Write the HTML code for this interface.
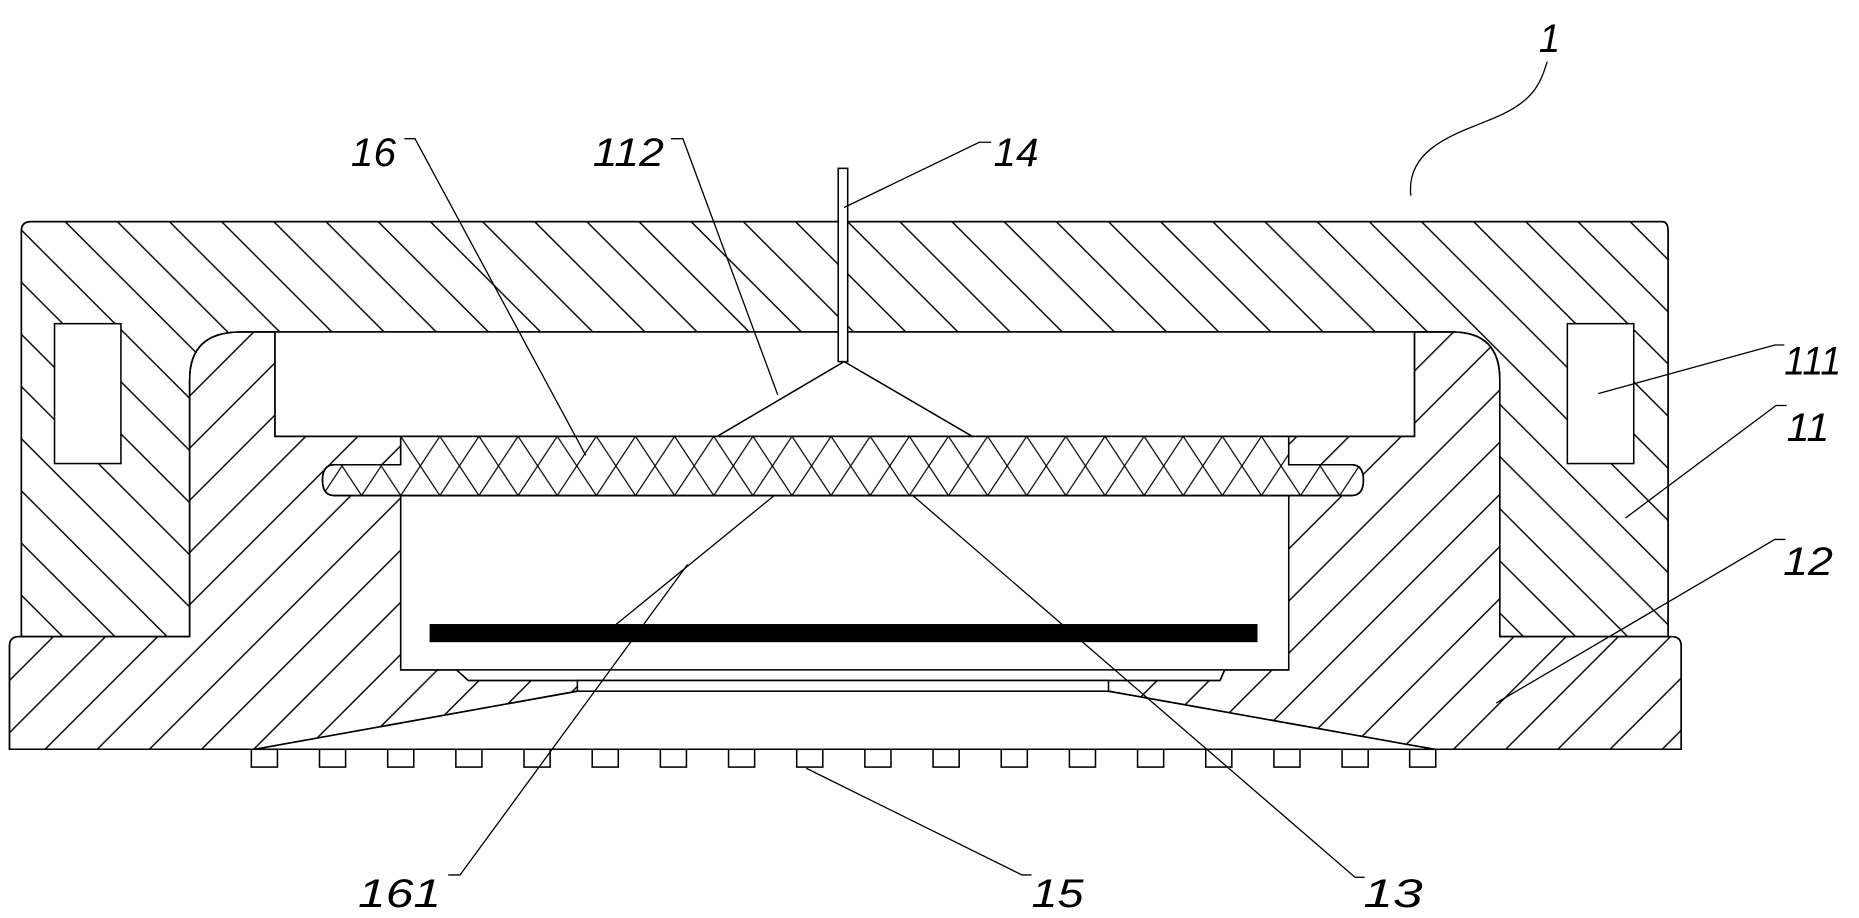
<!DOCTYPE html>
<html><head><meta charset="utf-8"><style>html,body{margin:0;padding:0;background:#fff}svg{display:block}</style></head><body>
<svg width="1859" height="918" viewBox="0 0 1568 774.3" preserveAspectRatio="none" xmlns="http://www.w3.org/2000/svg">
<defs>
<pattern id="h11" patternUnits="userSpaceOnUse" width="44" height="44"><path d="M-11,-11 L55,55 M-11,33 L11,55 M33,-11 L55,11" stroke="#000" stroke-width="1.2"/></pattern>
<pattern id="h12" patternUnits="userSpaceOnUse" width="44" height="44" x="10"><path d="M-11,55 L55,-11 M-11,11 L11,-11 M33,55 L55,33" stroke="#000" stroke-width="1.2"/></pattern>
<pattern id="mesh" patternUnits="userSpaceOnUse" width="33" height="50" x="338" y="368"><path d="M0,0 L33,50 M33,0 L0,50" stroke="#000" stroke-width="1"/></pattern>
</defs>
<g fill="none" stroke="#000" stroke-width="1.3">
<path d="M18,195 Q18,187 26,187 L1402,187 Q1407,187 1407,195 L1407,537 L1265,537 L1265,320 Q1265,280 1225,280 L203,280 Q160,280 160,320 L160,537 L18,537 Z" fill="#fff"/>
<path d="M18,195 Q18,187 26,187 L1402,187 Q1407,187 1407,195 L1407,537 L1265,537 L1265,320 Q1265,280 1225,280 L203,280 Q160,280 160,320 L160,537 L18,537 Z" fill="url(#h11)"/>
<path d="M8,545 Q8,537 16,537 L160,537 L160,320 Q160,280 203,280 L232,280 L232,368 L338,368 L338,565 L385,565 L395,574 L1029,574 L1033,565 L1087,565 L1087,368 L1193,368 L1193,280 L1225,280 Q1265,280 1265,320 L1265,537 L1410,537 Q1418,537 1418,545 L1418,632 L1210,632 L935,583 L487,583 L215,632 L8,632 Z" fill="#fff"/>
<path d="M8,545 Q8,537 16,537 L160,537 L160,320 Q160,280 203,280 L232,280 L232,368 L338,368 L338,565 L385,565 L395,574 L1029,574 L1033,565 L1087,565 L1087,368 L1193,368 L1193,280 L1225,280 Q1265,280 1265,320 L1265,537 L1410,537 Q1418,537 1418,545 L1418,632 L1210,632 L935,583 L487,583 L215,632 L8,632 Z" fill="url(#h12)"/>
<rect x="46" y="273" width="56" height="118" fill="#fff"/>
<rect x="1322" y="273" width="56" height="118" fill="#fff"/>
<rect x="232" y="280" width="961" height="88" fill="#fff"/>
<rect x="338" y="418" width="749" height="147" fill="#fff"/>
<rect x="487" y="574" width="448" height="9" fill="#fff"/>
<path d="M338,368 L1087,368 L1087,392 L1140,392 Q1150,392 1150,405 Q1150,418 1140,418 L282,418 Q272,418 272,405 Q272,392 282,392 L338,392 Z" fill="#fff"/>
<path d="M338,368 L1087,368 L1087,392 L1140,392 Q1150,392 1150,405 Q1150,418 1140,418 L282,418 Q272,418 272,405 Q272,392 282,392 L338,392 Z" fill="url(#mesh)"/>
<rect x="363" y="527" width="697" height="14" fill="#000"/>
<line x1="215" y1="632" x2="1210" y2="632"/>
<polyline points="605,368 712,305 820,368"/>
<rect x="707" y="142" width="8" height="163" fill="#fff"/>
<g fill="#fff">
<rect x="212" y="632" width="22" height="15"/><rect x="269.5" y="632" width="22" height="15"/><rect x="327" y="632" width="22" height="15"/><rect x="384.5" y="632" width="22" height="15"/><rect x="442" y="632" width="22" height="15"/><rect x="499.5" y="632" width="22" height="15"/><rect x="557" y="632" width="22" height="15"/><rect x="614.5" y="632" width="22" height="15"/><rect x="672" y="632" width="22" height="15"/><rect x="729.5" y="632" width="22" height="15"/><rect x="787" y="632" width="22" height="15"/><rect x="844.5" y="632" width="22" height="15"/><rect x="902" y="632" width="22" height="15"/><rect x="959.5" y="632" width="22" height="15"/><rect x="1017" y="632" width="22" height="15"/><rect x="1074.5" y="632" width="22" height="15"/><rect x="1132" y="632" width="22" height="15"/><rect x="1189" y="632" width="22" height="15"/>
</g>
<g stroke-width="1.1">
<line x1="653" y1="418" x2="518" y2="528"/>
<polyline points="580,476 388,738 378,738"/>
<polyline points="770,418 1143,740 1151,740"/>
<polyline points="341,117 350,117 494,384"/>
<polyline points="566,117 576,117 656,333"/>
<polyline points="712,175 826,120 836,120"/>
<polyline points="1348,332 1497,291 1505,291"/>
<polyline points="1371,437 1498,342 1507,342"/>
<polyline points="1262,593 1497,455 1506,455"/>
<polyline points="680,648 862,738 870,738"/>
<path d="M1190,165 C1185,120 1240,110 1268,96 C1295,83 1300,68 1305,52"/>
</g>
</g>
<g font-family="Liberation Sans, sans-serif" font-style="italic" font-size="34" fill="#000">
<text x="296" y="140" textLength="38" lengthAdjust="spacingAndGlyphs">16</text>
<text x="500" y="140" textLength="60" lengthAdjust="spacingAndGlyphs">112</text>
<text x="838" y="140" textLength="38" lengthAdjust="spacingAndGlyphs">14</text>
<text x="1298" y="44" textLength="18" lengthAdjust="spacingAndGlyphs">1</text>
<text x="1505" y="316" textLength="48" lengthAdjust="spacingAndGlyphs">111</text>
<text x="1507" y="372" textLength="36" lengthAdjust="spacingAndGlyphs">11</text>
<text x="1504" y="485" textLength="42" lengthAdjust="spacingAndGlyphs">12</text>
<text x="302" y="765" textLength="70" lengthAdjust="spacingAndGlyphs">161</text>
<text x="870" y="765" textLength="44" lengthAdjust="spacingAndGlyphs">15</text>
<text x="1150" y="765" textLength="50" lengthAdjust="spacingAndGlyphs">13</text>
</g>
</svg>
</body></html>
